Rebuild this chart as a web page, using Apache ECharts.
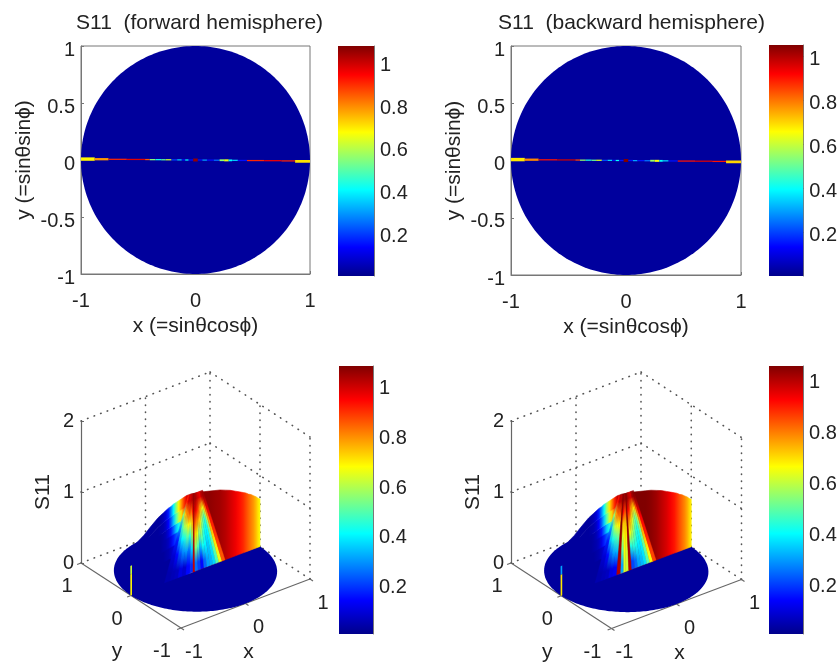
<!DOCTYPE html>
<html>
<head>
<meta charset="utf-8">
<style>
html,body{margin:0;padding:0;background:#fff}
#main{width:840px;height:664px;filter:blur(0.7px)}
</style>
<script src="https://cdn.jsdelivr.net/npm/echarts@6/dist/echarts.min.js"></script>
</head>
<body>
<div id="main"></div>
<script>
// ---------- values ----------
const titles = ['S11  (forward hemisphere)', 'S11  (backward hemisphere)'];
const xName = 'x (=sinθcosϕ)';
const yName = 'y (=sinθsinϕ)';
const zName = 'S11';
const colorbarTicks = [0.2, 0.4, 0.6, 0.8, 1];
const xyTicks = [-1, 0, 1];
const zTicks = [0, 1, 2];
const discValue = 0.02;
// colour limits of the four colour bars
const limitsTopLeft = [0, 1.0735];
const limitsTopRight = [0, 1.05];
const limitsBottomLeft = [0, 1.076];
const limitsBottomRight = [0, 1.051];
const jetColors = ['#00008b','#0000ff','#0080ff','#00ffff','#80ff80','#ffff00','#ff8000','#ff0000','#800000'];

// thin strip near y = 0 in the flat maps
const stripEdges = [-1,-.88,-.76,-.6,-.44,-.40,-.35,-.3,-.26,-.21,-.16,-.12,-.09,-.06,-.02,.02,.06,.1,.16,.21,.25,.29,.32,.37,.45,.6,.75,.87,1];
const stripValues = [.68,.78,.9,.97,.85,.55,.42,.5,.62,.2,.35,.15,.4,.15,1.05,.15,.3,.15,.25,.55,.65,.4,.35,.15,.9,.95,.9,.7];
const stripCentre = [.008,.007,.006,.005,.004,.003,.003,.002,.002,.001,.001,.001,0,0,0,0,-.001,-.001,-.002,-.002,-.003,-.003,-.003,-.004,-.005,-.006,-.008,-.012];
const stripHeight = [.03,.02,.011,.011,.011,.011,.011,.011,.011,.011,.011,.011,.011,.011,.026,.011,.011,.011,.011,.016,.018,.016,.011,.011,.011,.011,.011,.024];

// wall rising along y = 0 in the 3-D views
const wallX = [-1,-.9,-.8,-.7,-.62,-.58,-.54,-.5,-.46,-.42,-.38,-.34,-.3,-.26,-.22,-.18,-.14,-.1,-.06,-.02,.06,.14,.22,.3,.38,.46,.54,.62,.68,.74,.78,.82,.86,.9,.94,.97,1];
const wallHeight = [.68,.72,.78,.86,.92,.95,.97,.99,1.01,1.03,1.04,1.06,1.07,1.08,1.09,1.1,1.11,1.11,1.11,1.1,1.09,1.07,1.05,1.03,1.01,.98,.95,.91,.88,.85,.83,.8,.78,.75,.72,.69,.67];
// left part of the wall: fraction of the height -> value at each wallX up to x = -0.02 (bottom row first)
const leftLevels = [0,.3,.45,.6,.72,.86,1];
const leftRow1 = [.02,.02,.02,.02,.02,.02,.02,.02,.02,.02,.02,.03,.03,.04,.05,.06,.1,.2,.8,1.05];
const leftRow2 = [.02,.02,.02,.02,.02,.02,.02,.02,.03,.04,.06,.09,.12,.16,.2,.28,.4,.7,.95,1.05];
const leftRow3 = [.02,.02,.02,.02,.02,.02,.02,.03,.04,.06,.1,.16,.22,.28,.34,.42,.55,.8,1.0,1.05];
const leftRow4 = [.02,.02,.02,.02,.02,.02,.02,.03,.05,.09,.15,.24,.34,.42,.5,.62,.8,.95,1.02,1.05];
const leftRow5 = [.02,.02,.02,.02,.02,.02,.03,.04,.07,.13,.22,.34,.48,.6,.7,.82,.93,1.0,1.04,1.05];
const leftRow6 = [.02,.02,.02,.02,.02,.02,.03,.05,.09,.16,.27,.4,.55,.68,.78,.88,.97,1.03,1.05,1.05];
const rightEdge = [1.05,1.05,1.06,1.06,1.05,1.04,1.02,.99,.96,.93,.9,.87,.84,.81,.78,.74,.7,.67];
const spikeX = [-1.01,-.985];
const spikeZ = [0,.3,.42];
const spikeValuesLeft = [.68,.62];
const spikeValuesRight = [.68,.3];

// fan of rays between the base line and the top of the wall
const fanTopZ = 1.1;
const fanBaseX = [-.48,-.395,-.333,-.271,-.209,-.147,-.085,-.039,-.008,.039,.085,.132,.178,.225,.271,.318,.364,.411,.457];
const fanTopX = [-.115,-.1,-.088,-.075,-.063,-.05,-.04,-.03,-.02,-.01,0,.012,.025,.038,.05,.063,.075,.09,.11];
const fanStops = [.1,.3,.475,.625,.775,.925];
const fanForward = [
 [.04,.08,.16,.3,.55,.9],[.05,.14,.32,.48,.72,.95],[.06,.22,.4,.58,.78,1],[.1,.28,.44,.62,.82,.98],
 [.08,.3,.5,.68,.86,1],[.14,.26,.44,.64,.82,1.02],[.18,.36,.56,.74,.92,1.03],[1.0,1.03,1.05,1.06,1.06,1.06],
 [.25,.55,.72,.85,.98,1.04],[.2,.48,.66,.8,.95,1.04],[.14,.34,.54,.76,.9,1.02],[.24,.42,.56,.7,.85,1],
 [.3,.4,.46,.58,.76,.98],[.32,.35,.4,.5,.72,.97],[.36,.38,.4,.44,.64,.95],[.48,.5,.5,.56,.72,1],
 [.65,.7,.75,.78,.85,1.02],[.85,.88,.9,.92,.98,1.04]];
const fanBackward = [
 [.04,.08,.16,.3,.55,.9],[.05,.14,.34,.5,.74,.95],[.06,.24,.42,.6,.8,1],[.1,.3,.46,.64,.82,.98],
 [.12,.32,.5,.66,.84,1],[1.0,1.02,1.03,1.05,1.05,1.05],[.3,.5,.62,.72,.92,1.04],[.62,.66,.68,.72,.85,1.02],
 [.6,.62,.66,.7,.85,1.02],[1.0,1.02,1.03,1.05,1.06,1.06],[.2,.42,.64,.78,.92,1.04],[.24,.44,.58,.72,.88,1],
 [.3,.42,.52,.62,.78,.98],[.32,.38,.44,.54,.74,.97],[.36,.38,.42,.48,.68,.95],[.48,.5,.5,.56,.72,1],
 [.65,.7,.75,.78,.85,1.02],[.85,.88,.9,.92,.98,1.04]];

// ---------- helpers ----------
const FONT = '"Liberation Sans", Arial, sans-serif';
const TXT = '#222';
const TICK = 20;
const NAME = 21;
const options = {grid:[],xAxis:[],yAxis:[],series:[],title:[]};

function colorOf(v, lim){
  const t=Math.max(0,Math.min(1,(v-lim[0])/(lim[1]-lim[0])));
  return echarts.color.lerp(t,jetColors);
}
function addGrid(g, xa, ya){
  options.grid.push(g); const i = options.grid.length-1;
  options.xAxis.push(Object.assign({gridIndex:i,type:'value'},xa));
  options.yAxis.push(Object.assign({gridIndex:i,type:'value'},ya));
  return i;
}
function addSeries(s){
  options.series.push(Object.assign({type:'custom',silent:true,animation:false,clip:false},s));
  return options.series.length-1;
}
function tickLabel(v){return String(v);}

function colorbar(box, lim){
  const g = addGrid(
    {left:box[0],top:box[1],width:box[2],height:box[3],show:false},
    {min:0,max:1,show:false},
    {min:lim[0],max:lim[1],position:'right',
     axisLine:{show:true,onZero:false,lineStyle:{color:'#555',width:.8}},
     axisTick:{show:true,inside:true,length:3,customValues:colorbarTicks,lineStyle:{color:'#333'}},
     axisLabel:{show:true,customValues:colorbarTicks,margin:6,verticalAlign:'top',lineHeight:7,color:TXT,fontSize:TICK,fontFamily:FONT,formatter:tickLabel},
     splitLine:{show:false}});
  addSeries({xAxisIndex:g,yAxisIndex:g,data:[[0,lim[0],1,lim[1]]],z:1,
    renderItem(p,api){
      const a=api.coord([api.value(0),api.value(3)]), b=api.coord([api.value(2),api.value(1)]);
      const stops=jetColors.map((c,i)=>({offset:1-i/(jetColors.length-1),color:c}));
      return {type:'rect',shape:{x:a[0],y:a[1],width:b[0]-a[0],height:b[1]-a[1]},
        style:{fill:new echarts.graphic.LinearGradient(0,0,0,1,stops)}};
    }});
}

function flatPanel(box, title, titleLeft, lim){
  const g = addGrid(
    {left:box[0],top:box[1],width:box[2],height:box[3],show:true,borderColor:'#777',borderWidth:1,backgroundColor:'#fff'},
    {min:-1,max:1,interval:1,name:xName,nameLocation:'middle',nameGap:42,
     nameTextStyle:{color:TXT,fontSize:NAME,fontFamily:FONT},
     axisLine:{onZero:false,lineStyle:{color:'#777'}},axisTick:{inside:true,length:3,lineStyle:{color:'#777'}},
     axisLabel:{margin:17,color:TXT,fontSize:TICK,fontFamily:FONT,formatter:tickLabel},splitLine:{show:false}},
    {min:-1,max:1,interval:.5,name:yName,nameLocation:'middle',nameGap:46,
     nameTextStyle:{color:TXT,fontSize:NAME,fontFamily:FONT},
     axisLine:{onZero:false,lineStyle:{color:'#777'}},axisTick:{inside:true,length:3,lineStyle:{color:'#777'}},
     axisLabel:{margin:6,verticalAlign:'top',lineHeight:8,color:TXT,fontSize:TICK,fontFamily:FONT,formatter:tickLabel},splitLine:{show:false}});
  options.title.push({text:title,left:titleLeft,top:8,textStyle:{color:TXT,fontSize:NAME,fontWeight:'normal',fontFamily:FONT}});
  addSeries({xAxisIndex:g,yAxisIndex:g,z:2,data:[[discValue,0,0,1]],
    renderItem(p,api){
      const pts=[],cx=api.value(1),cy=api.value(2),r=api.value(3);
      for(let k=0;k<240;k++){const t=k/240*2*Math.PI;pts.push(api.coord([cx+r*Math.cos(t),cy+r*Math.sin(t)]));}
      return {type:'polygon',shape:{points:pts},style:{fill:colorOf(api.value(0),lim)}};
    }});
  const strip = stripValues.map((v,i)=>[v,stripEdges[i],stripEdges[i+1],stripCentre[i],stripHeight[i]]);
  addSeries({xAxisIndex:g,yAxisIndex:g,z:3,data:strip,
    renderItem(p,api){
      const a=api.coord([api.value(1),api.value(3)+api.value(4)/2]), b=api.coord([api.value(2),api.value(3)-api.value(4)/2]);
      return {type:'rect',shape:{x:a[0],y:a[1],width:b[0]-a[0],height:b[1]-a[1]},style:{fill:colorOf(api.value(0),lim)}};
    }});
}

// ---------- 3-D panels: oblique projection on a screen-sized hidden grid ----------
const screenGrid = addGrid({left:0,top:0,width:840,height:664,show:false},
  {min:0,max:840,show:false},{min:0,max:664,inverse:true,show:false});

function view3d(panel, fan, spikeValues, lim){
  const P=(x,y,z)=>[panel.ox+panel.xv[0]*(x+1)+panel.yv[0]*(y+1), panel.oy+panel.xv[1]*(x+1)+panel.yv[1]*(y+1)-panel.zv*z];

  // z axis (real value axis)
  addGrid({left:panel.left,top:panel.zTop,width:230,height:panel.zv*2,show:false},
    {min:0,max:1,show:false},
    {min:0,max:2,interval:1,name:zName,nameLocation:'middle',nameGap:27,
     nameTextStyle:{color:TXT,fontSize:NAME,fontFamily:FONT},
     axisLine:{show:true,onZero:false,lineStyle:{color:'#666',width:1.2}},axisTick:{show:true,inside:true,length:3,lineStyle:{color:'#666'}},
     axisLabel:{margin:7,color:TXT,fontSize:TICK,fontFamily:FONT,formatter:tickLabel},splitLine:{show:false}});

  // dotted box lines
  const dotted=[];
  zTicks.forEach(z=>{dotted.push([-1,1,z,1,1,z],[1,1,z,1,-1,z]);});
  dotted.push([0,1,0,0,1,2],[1,1,0,1,1,2],[1,0,0,1,0,2],[1,-1,0,1,-1,2]);
  addSeries({xAxisIndex:screenGrid,yAxisIndex:screenGrid,z:2,data:dotted,
    renderItem(p,api){
      const a=api.coord(P(api.value(0),api.value(1),api.value(2))), b=api.coord(P(api.value(3),api.value(4),api.value(5)));
      return {type:'line',shape:{x1:a[0],y1:a[1],x2:b[0],y2:b[1]},style:{stroke:'#555',lineWidth:1.6,lineDash:[.5,6.5],lineCap:'round'}};
    }});

  // solid floor axes with ticks
  const solid=[[-1,1,0,-1,-1,0],[-1,-1,0,1,-1,0]];
  xyTicks.forEach(v=>{solid.push([v,-1,0,v,-1.06,0],[-1,v,0,-1.06,v,0]);});
  addSeries({xAxisIndex:screenGrid,yAxisIndex:screenGrid,z:2,data:solid,
    renderItem(p,api){
      const a=api.coord(P(api.value(0),api.value(1),api.value(2))), b=api.coord(P(api.value(3),api.value(4),api.value(5)));
      return {type:'line',shape:{x1:a[0],y1:a[1],x2:b[0],y2:b[1]},style:{stroke:'#666',lineWidth:1.1}};
    }});

  // disc on the floor
  addSeries({xAxisIndex:screenGrid,yAxisIndex:screenGrid,z:3,data:[[discValue,0,0,1]],
    renderItem(p,api){
      const pts=[],r=api.value(3);
      for(let k=0;k<240;k++){const t=k/240*2*Math.PI;pts.push(api.coord(P(api.value(1)+r*Math.cos(t),api.value(2)+r*Math.sin(t),0)));}
      return {type:'polygon',shape:{points:pts},style:{fill:colorOf(api.value(0),lim)}};
    }});

  // horizontal colour ramp through the wall columns, in screen space
  const ramp=(fromIdx,vals,api)=>{
    const xs=vals.map((_,i)=>api.coord(P(wallX[fromIdx+i],0,0))[0]);
    const x0=xs[0],x1=xs[xs.length-1];
    const stops=vals.map((v,i)=>({offset:(xs[i]-x0)/(x1-x0),color:colorOf(v,lim)}));
    return new echarts.graphic.LinearGradient(x0,0,x1,0,stops,true);
  };
  const band=(fromIdx,n,f0,f1,api)=>{
    const pts=[];
    for(let i=0;i<n;i++){pts.push(api.coord(P(wallX[fromIdx+i],0,wallHeight[fromIdx+i]*f0)));}
    for(let i=n-1;i>=0;i--){pts.push(api.coord(P(wallX[fromIdx+i],0,wallHeight[fromIdx+i]*f1)));}
    return pts;
  };
  // left wall rows
  const rows=[leftRow1,leftRow2,leftRow3,leftRow4,leftRow5,leftRow6];
  addSeries({xAxisIndex:screenGrid,yAxisIndex:screenGrid,z:4,data:rows.map((_,i)=>[i]),
    renderItem(p,api){
      const r=p.dataIndex, f=ramp(0,rows[r],api);
      return {type:'polygon',shape:{points:band(0,rows[r].length,leftLevels[r],leftLevels[r+1],api)},style:{fill:f,stroke:f,lineWidth:.6}};
    }});
  // right wall, one colour per height-independent column
  addSeries({xAxisIndex:screenGrid,yAxisIndex:screenGrid,z:4,data:[[0]],
    renderItem(p,api){
      const from=wallX.length-rightEdge.length, f=ramp(from,rightEdge,api);
      return {type:'polygon',shape:{points:band(from,rightEdge.length,0,1,api)},style:{fill:f,stroke:f,lineWidth:.6}};
    }});
  // fan sectors, each with a colour ramp from base to top
  addSeries({xAxisIndex:screenGrid,yAxisIndex:screenGrid,z:5,data:fan.map((_,i)=>[i]),
    renderItem(p,api){
      const i=p.dataIndex, ray=fan[i];
      const pts=[P(fanBaseX[i],0,0),P(fanBaseX[i+1],0,0),P(fanTopX[i+1],0,fanTopZ),P(fanTopX[i],0,fanTopZ)]
        .map(q=>api.coord(q));
      const a=api.coord(P((fanBaseX[i]+fanBaseX[i+1])/2,0,0)), b=api.coord(P((fanTopX[i]+fanTopX[i+1])/2,0,fanTopZ));
      const stops=ray.map((v,j)=>({offset:fanStops[j],color:colorOf(v,lim)}));
      const f=new echarts.graphic.LinearGradient(a[0],a[1],b[0],b[1],stops,true);
      return {type:'polygon',shape:{points:pts},style:{fill:f,stroke:f,lineWidth:.4}};
    }});
  // spike at x = -1
  addSeries({xAxisIndex:screenGrid,yAxisIndex:screenGrid,z:6,data:spikeValues.map((v,i)=>[v,spikeZ[i],spikeZ[i+1]]),
    renderItem(p,api){
      const pts=[P(spikeX[0],0,api.value(1)),P(spikeX[1],0,api.value(1)),P(spikeX[1],0,api.value(2)),P(spikeX[0],0,api.value(2))].map(q=>api.coord(q));
      return {type:'polygon',shape:{points:pts},style:{fill:colorOf(api.value(0),lim)}};
    }});

  // tick labels and names of the floor axes: [text, x, y, z, dx, dy]
  const labels=[];
  xyTicks.forEach(v=>{labels.push([String(v),v,-1,0,13,24]);});
  xyTicks.forEach(v=>{labels.push([String(v),-1,v,0,v===-1?-19:-14,23.5]);});
  labels.push(['x',0,-1,0,3,49],['y',-1,0,0,-14,56]);
  addSeries({xAxisIndex:screenGrid,yAxisIndex:screenGrid,z:7,encode:{x:1,y:2},
    data:labels,dimensions:[{name:'t',type:'ordinal'},'x','y','z','dx','dy'],
    renderItem(p,api){
      const d=labels[p.dataIndex];
      const a=api.coord(P(d[1],d[2],d[3]));
      return {type:'text',style:{text:d[0],x:a[0]+d[4],y:a[1]+d[5],textAlign:'center',textVerticalAlign:'middle',fill:TXT,fontSize:d[0]==='x'||d[0]==='y'?NAME:TICK,fontFamily:FONT}};
    }});
}

// ---------- assemble ----------
flatPanel([81,46,229,228],titles[0],71,limitsTopLeft);
flatPanel([511,46,230,229],titles[1],493,limitsTopRight);
colorbar([338,46,36,230],limitsTopLeft);
colorbar([769,45,37,231],limitsTopRight);
colorbar([339,366,34,268],limitsBottomLeft);
colorbar([769,366,34,268],limitsBottomRight);
view3d({ox:181,oy:628,xv:[64.5,-24.5],yv:[-50,-32.5],zv:71,left:81,zTop:421},fanForward,spikeValuesLeft,limitsBottomLeft);
view3d({ox:611.5,oy:628.5,xv:[65,-24.5],yv:[-50.25,-32.75],zv:71,left:511,zTop:421},fanBackward,spikeValuesRight,limitsBottomRight);

const chart = echarts.init(document.getElementById('main'));
options.animation=false;
options.backgroundColor='#fff';
chart.setOption(options);
</script>
</body>
</html>
